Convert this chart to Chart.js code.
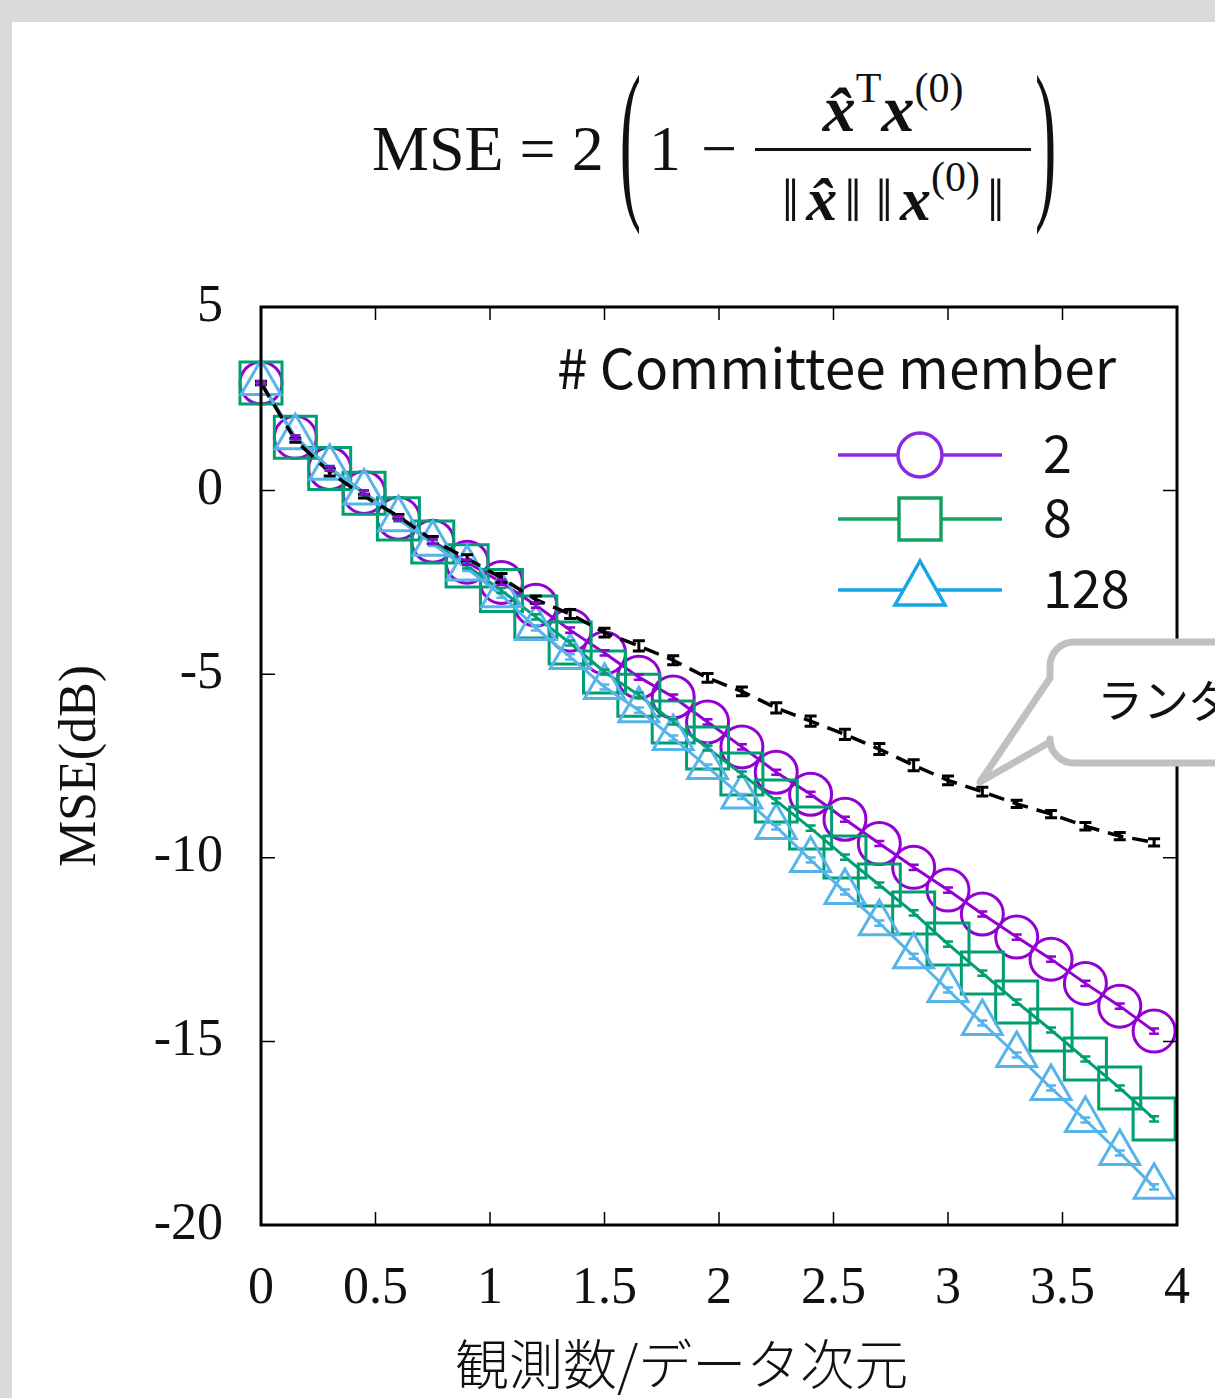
<!DOCTYPE html>
<html>
<head>
<meta charset="utf-8">
<script src="https://cdn.jsdelivr.net/npm/chart.js@4.4.1/dist/chart.umd.min.js"></script>
<style>
  html, body { margin: 0; padding: 0; }
  body { width: 1215px; height: 1398px; background: #d9d9d9; position: relative; overflow: hidden; }
  #panel { position: absolute; left: 12px; top: 22px; right: 0; bottom: 0; background: #fff; }
  #chart { position: absolute; left: 0; top: 0; }
  #formula {
    position: absolute; left: 372px; top: 64px; height: 170px;
    display: flex; align-items: center;
    font-family: 'Liberation Serif', 'DejaVu Serif', serif; color: #111;
    font-size: 64px; white-space: nowrap;
  }
  #formula .paren { display: inline-block; transform: translateY(-10px) scaleY(2.75); font-weight: 300; }
  #formula .lp { margin: 0 8px 0 16px; }
  #formula .rp { margin-left: 4px; }
  #formula .minus { margin-left: 20px; }
  #formula .frac { display: inline-flex; flex-direction: column; align-items: center; width: 276px;
                   font-size: 66px; margin-left: 18px; }
  #formula .num { border-bottom: 3px solid #111; width: 100%; text-align: center; padding-bottom: 2px; line-height: 1.1; }
  #formula .den { padding-top: 4px; line-height: 1.05; font-size: 62px; }
  #formula .bar { display: inline-block; margin: 0 7px; }
  #formula sup { font-size: 42px; vertical-align: 0.7em; }
  #formula b { font-style: italic; }
  #xtitle {
    position: absolute; left: 455px; top: 1330px;
    font-family: 'Noto Sans CJK JP', sans-serif; font-weight: 300;
    font-size: 54px; line-height: 64px; color: #111; white-space: nowrap;
  }
</style>
</head>
<body>
<div id="panel"></div>
<div id="formula">
  <span>MSE = 2</span>
  <span class="paren lp">(</span>
  <span>1</span><span class="minus">−</span>
  <span class="frac">
    <span class="num"><b>x̂</b><sup>T</sup><b>x</b><sup>(0)</sup></span>
    <span class="den"><span class="bar">‖</span><b>x̂</b><span class="bar">‖</span><span class="bar">‖</span><b>x</b><sup>(0)</sup><span class="bar">‖</span></span>
  </span>
  <span class="paren rp">)</span>
</div>
<canvas id="chart" width="1215" height="1398"></canvas>
<div id="xtitle">観測数/データ次元</div>
<script>
// observations / data dimension
const ratio = [0, 0.15, 0.3, 0.45, 0.6, 0.75, 0.9, 1.05, 1.2, 1.35, 1.5, 1.65, 1.8, 1.95,
               2.1, 2.25, 2.4, 2.55, 2.7, 2.85, 3.0, 3.15, 3.3, 3.45, 3.6, 3.75, 3.9];

// MSE (dB) per committee size
const mse2 = [2.93, 1.45, 0.60, -0.05, -0.75, -1.38, -1.95, -2.50, -3.12, -3.80, -4.42, -5.08, -5.62, -6.30,
              -6.98, -7.67, -8.27, -8.95, -9.61, -10.26, -10.88, -11.53, -12.16, -12.76, -13.42, -14.04, -14.72];
const mse8 = [2.93, 1.45, 0.60, -0.07, -0.77, -1.40, -2.05, -2.72, -3.44, -4.15, -4.94, -5.57, -6.30, -7.01,
              -7.72, -8.45, -9.19, -9.98, -10.74, -11.50, -12.35, -13.14, -13.93, -14.69, -15.48, -16.27, -17.11];
const mse128 = [2.93, 1.45, 0.62, -0.05, -0.78, -1.45, -2.12, -2.85, -3.74, -4.53, -5.35, -5.98, -6.74, -7.53,
                -8.33, -9.16, -10.06, -10.93, -11.78, -12.68, -13.60, -14.50, -15.37, -16.27, -17.14, -18.04, -18.96];
const mseRandom = [2.93, 1.37, 0.50, -0.15, -0.70, -1.35, -1.85, -2.38, -2.97, -3.36, -3.87, -4.23, -4.62, -5.10,
                   -5.47, -5.92, -6.28, -6.64, -7.04, -7.48, -7.89, -8.20, -8.53, -8.81, -9.14, -9.41, -9.58];

// error bar half-heights
const errCommittee = [0.05, 0.05, 0.06, 0.06, 0.06, 0.06, 0.07, 0.07, 0.07, 0.07, 0.07, 0.07, 0.07, 0.07,
                      0.07, 0.07, 0.07, 0.07, 0.07, 0.07, 0.07, 0.07, 0.07, 0.07, 0.07, 0.07, 0.07];
const errRandom = [0.05, 0.05, 0.10, 0.05, 0.05, 0.10, 0.10, 0.12, 0.10, 0.12, 0.12, 0.14, 0.12, 0.12,
                   0.12, 0.14, 0.14, 0.14, 0.15, 0.15, 0.12, 0.12, 0.10, 0.10, 0.10, 0.10, 0.10];

const xTicks = [0, 0.5, 1, 1.5, 2, 2.5, 3, 3.5, 4];
const yTicks = [5, 0, -5, -10, -15, -20];

const legendTitle = '# Committee member';
const legendLabels = ['2', '8', '128'];
const calloutText = 'ランダム';

const colors = ['#9400d3', '#009e73', '#56b4e9'];
const legendColors = ['#8a2be2', '#13a060', '#16a6e6'];
const serif = "'Liberation Serif', 'Times New Roman', serif";
const sans = "'Noto Sans CJK JP', 'Noto Sans', sans-serif";

const toPoints = arr => arr.map((v, i) => ({ x: ratio[i], y: v }));

// error bars drawn through the scales
const errorBars = {
  id: 'errorBars',
  afterDatasetsDraw(chart) {
    const ctx = chart.ctx;
    const ys = chart.scales.y;
    chart.data.datasets.forEach((ds, di) => {
      const meta = chart.getDatasetMeta(di);
      ctx.save();
      ctx.strokeStyle = ds.borderColor;
      ctx.lineWidth = ds.errWidth;
      meta.data.forEach((pt, i) => {
        const e = ds.err[i];
        const v = ds.data[i].y;
        const y1 = ys.getPixelForValue(v + e);
        const y2 = ys.getPixelForValue(v - e);
        const w = ds.capWidth;
        ctx.beginPath();
        ctx.moveTo(pt.x, y1); ctx.lineTo(pt.x, y2);
        ctx.moveTo(pt.x - w, y1); ctx.lineTo(pt.x + w, y1);
        ctx.moveTo(pt.x - w, y2); ctx.lineTo(pt.x + w, y2);
        ctx.stroke();
      });
      ctx.restore();
    });
  }
};

// frame with inward ticks, legend and callout
const frameAndExtras = {
  id: 'frameAndExtras',
  afterDraw(chart) {
    const ctx = chart.ctx;
    const a = chart.chartArea;
    const xs = chart.scales.x, ys = chart.scales.y;
    ctx.save();
    ctx.strokeStyle = '#000';
    ctx.lineWidth = 1.5;
    ctx.beginPath();
    xTicks.slice(1, -1).forEach(v => {
      const px = xs.getPixelForValue(v);
      ctx.moveTo(px, a.bottom); ctx.lineTo(px, a.bottom - 13);
      ctx.moveTo(px, a.top); ctx.lineTo(px, a.top + 13);
    });
    yTicks.slice(1, -1).forEach(v => {
      const py = ys.getPixelForValue(v);
      ctx.moveTo(a.left, py); ctx.lineTo(a.left + 14, py);
      ctx.moveTo(a.right, py); ctx.lineTo(a.right - 14, py);
    });
    ctx.stroke();
    ctx.lineWidth = 3;
    ctx.strokeRect(a.left, a.top, a.right - a.left, a.bottom - a.top);

    // legend
    ctx.fillStyle = '#111';
    ctx.font = '55px ' + sans;
    ctx.textBaseline = 'middle';
    ctx.textAlign = 'left';
    ctx.fillText(legendTitle, 557, 368);
    ctx.font = '52px ' + sans;
    const rows = [455, 519, 590];
    legendLabels.forEach((lab, i) => {
      const y = rows[i];
      ctx.strokeStyle = legendColors[i];
      ctx.lineWidth = 3.5;
      ctx.beginPath();
      ctx.moveTo(838, y); ctx.lineTo(1002, y);
      ctx.stroke();
      ctx.beginPath();
      if (i === 0) {
        ctx.arc(920, y, 22, 0, Math.PI * 2);
      } else if (i === 1) {
        ctx.rect(899, y - 21, 42, 42);
      } else {
        ctx.moveTo(920, y - 29); ctx.lineTo(945, y + 15); ctx.lineTo(895, y + 15); ctx.closePath();
      }
      ctx.fillStyle = '#fff';
      ctx.fill();
      ctx.stroke();
      ctx.fillStyle = '#111';
      ctx.fillText(lab, 1043, y - 2);
    });

    // callout bubble
    const L = 1050, T = 642, R = 1270, B = 763, r = 24;
    ctx.beginPath();
    ctx.moveTo(L + r, T);
    ctx.lineTo(R, T);
    ctx.lineTo(R, B);
    ctx.lineTo(L + r, B);
    ctx.arcTo(L, B, L, B - r, r);
    ctx.lineTo(L, 742);
    ctx.lineTo(980, 782);
    ctx.lineTo(L, 678);
    ctx.lineTo(L, T + r);
    ctx.arcTo(L, T, L + r, T, r);
    ctx.closePath();
    ctx.fillStyle = '#fff';
    ctx.fill();
    ctx.strokeStyle = '#c0c0c0';
    ctx.lineWidth = 7;
    ctx.lineJoin = 'round';
    ctx.stroke();
    ctx.fillStyle = '#111';
    ctx.font = '46px ' + sans;
    ctx.fillText(calloutText, 1097, 700);
    ctx.restore();
  }
};

new Chart(document.getElementById('chart'), {
  type: 'line',
  data: {
    datasets: [
      {
        label: 'random', data: toPoints(mseRandom), err: errRandom, capWidth: 6, errWidth: 3,
        borderColor: '#000', borderWidth: 3.5, borderDash: [16, 9],
        pointRadius: 0, order: 1, clip: false
      },
      {
        label: legendLabels[2], data: toPoints(mse128), err: errCommittee, capWidth: 5, errWidth: 2.5,
        borderColor: colors[2], borderWidth: 3, pointStyle: 'triangle', pointRadius: 23,
        pointBorderWidth: 3, pointBackgroundColor: 'rgba(0,0,0,0)', order: 2, clip: false
      },
      {
        label: legendLabels[1], data: toPoints(mse8), err: errCommittee, capWidth: 5, errWidth: 2.5,
        borderColor: colors[1], borderWidth: 3, pointStyle: 'rect', pointRadius: 29.7,
        pointBorderWidth: 3, pointBackgroundColor: 'rgba(0,0,0,0)', order: 3, clip: false
      },
      {
        label: legendLabels[0], data: toPoints(mse2), err: errCommittee, capWidth: 5, errWidth: 2.5,
        borderColor: colors[0], borderWidth: 3, pointStyle: 'circle', pointRadius: 21,
        pointBorderWidth: 3, pointBackgroundColor: 'rgba(0,0,0,0)', order: 4, clip: false
      }
    ]
  },
  options: {
    responsive: false,
    animation: false,
    devicePixelRatio: 1,
    layout: { padding: { left: 50, top: 307, right: 29, bottom: 0 } },
    plugins: { legend: { display: false }, tooltip: { enabled: false } },
    elements: { line: { tension: 0 } },
    scales: {
      x: {
        type: 'linear', min: 0, max: 4,
        grid: { display: false }, border: { display: false },
        afterFit: s => { s.height = 173; },
        afterBuildTicks: s => { s.ticks = xTicks.map(v => ({ value: v })); },
        ticks: { color: '#111', padding: 25, maxRotation: 0, callback: v => String(v),
                 font: { family: serif, size: 52 } }
      },
      y: {
        type: 'linear', min: -20, max: 5,
        grid: { display: false }, border: { display: false },
        afterFit: s => { s.width = 211; },
        afterBuildTicks: s => { s.ticks = yTicks.map(v => ({ value: v })); },
        ticks: { color: '#111', padding: 30, callback: v => String(v), font: { family: serif, size: 52 } },
        title: { display: true, text: 'MSE(dB)', color: '#111', padding: 0, font: { family: serif, size: 52 } }
      }
    }
  },
  plugins: [errorBars, frameAndExtras]
});
</script>
</body>
</html>
